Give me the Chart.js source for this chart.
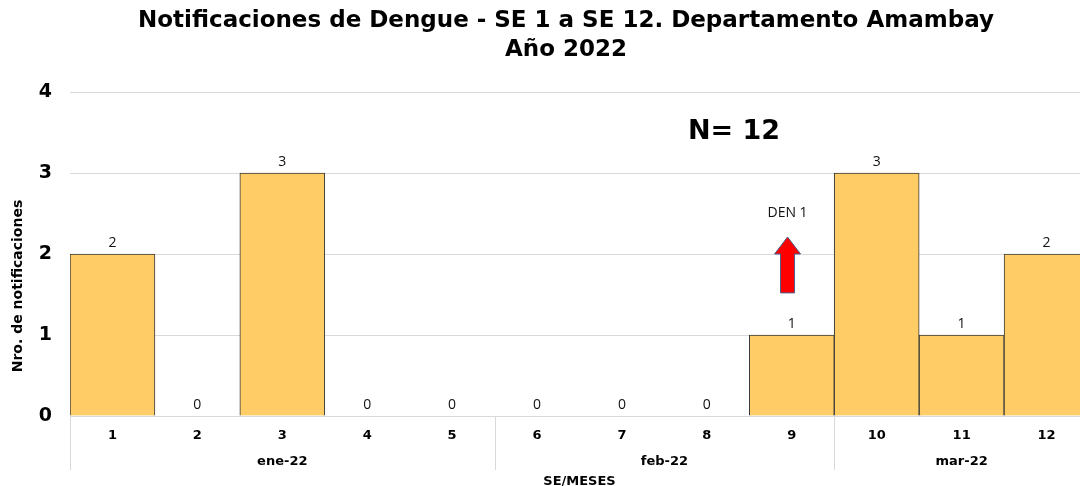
<!DOCTYPE html>
<html>
<head>
    <meta charset="utf-8">
    <title>Notificaciones de Dengue - Amambay 2022</title>
    <script src="https://cdn.jsdelivr.net/npm/chart.js@4.4.1/dist/chart.umd.min.js"></script>
    <style>
        html, body {
            margin: 0;
            padding: 0;
            background: #fff;
            overflow: hidden;
        }
        #wrap {
            width: 1080px;
            height: 486px;
            overflow: hidden;
        }
        #box {
            width: 1136px;
            height: 486px;
        }
    </style>
</head>
<body>
<div id="wrap">
    <div id="box">
        <canvas id="chartJSContainer"></canvas>
    </div>
</div>
<script>
    // semanas epidemiologicas y casos
    var semanas = ['1', '2', '3', '4', '5', '6', '7', '8', '9', '10', '11', '12']
    var casos = [2, 0, 3, 0, 0, 0, 0, 0, 1, 3, 1, 2]
    // meses: etiqueta, primera y ultima semana (indices)
    var meses = ['ene-22', 'feb-22', 'mar-22']
    var mesInicio = [0, 5, 9]
    var mesFin = [4, 8, 11]
    var yTicks = [0, 1, 2, 3, 4]

    var titulo = ['Notificaciones de Dengue - SE 1 a SE 12. Departamento Amambay', 'Año 2022']
    var totalTexto = 'N= 12'
    var serotipo = 'DEN 1'

    var gridColor = '#d9d9d9'

    // titulo, etiquetas, meses, flecha y textos extra
    var extras = {
        id: 'extras',
        afterDatasetsDraw: function (chart) {
            var ctx = chart.ctx
            var x = chart.scales.x
            var y = chart.scales.y
            var area = chart.chartArea
            var step = x.getPixelForValue(1) - x.getPixelForValue(0)

            ctx.save()
            ctx.textAlign = 'center'
            ctx.textBaseline = 'middle'

            // titulo (centrado como en el original, algo a la derecha)
            ctx.fillStyle = '#000'
            ctx.font = 'bold 23px "DejaVu Sans", sans-serif'
            ctx.fillText(titulo[0], 566, 21)
            ctx.fillText(titulo[1], 566, 50)

            // valores sobre barras
            ctx.fillStyle = '#111'
            ctx.font = '14px "Open Sans", sans-serif'
            casos.forEach(function (v, i) {
                ctx.fillText(String(v), x.getPixelForValue(i), y.getPixelForValue(v) - 11)
            })

            // meses y separadores
            ctx.strokeStyle = gridColor
            ctx.lineWidth = 1
            ctx.fillStyle = '#000'
            ctx.font = 'bold 13px "DejaVu Sans", sans-serif'
            meses.forEach(function (m, k) {
                var x0 = x.getPixelForValue(mesInicio[k]) - step / 2
                var x1 = x.getPixelForValue(mesFin[k]) + step / 2
                ctx.beginPath()
                ctx.moveTo(Math.round(x0) + 0.5, area.bottom)
                ctx.lineTo(Math.round(x0) + 0.5, area.bottom + 54)
                ctx.moveTo(Math.round(x1) + 0.5, area.bottom)
                ctx.lineTo(Math.round(x1) + 0.5, area.bottom + 54)
                ctx.stroke()
                ctx.fillText(m, (x0 + x1) / 2, area.bottom + 46)
            })

            // N total
            ctx.font = 'bold 27px "DejaVu Sans", sans-serif'
            ctx.fillText(totalTexto, x.getPixelForValue(7) + 0.32 * step, y.getPixelForValue(3.51))

            // DEN 1 + flecha
            var ax = x.getPixelForValue(8) - 0.05 * step
            ctx.font = '14px "Open Sans", sans-serif'
            ctx.fillStyle = '#111'
            ctx.fillText(serotipo, ax, y.getPixelForValue(2.5))

            var tip = y.getPixelForValue(2.21)
            var base = y.getPixelForValue(1.52)
            var neck = tip + 17
            ctx.beginPath()
            ctx.moveTo(ax, tip)
            ctx.lineTo(ax + 13, neck)
            ctx.lineTo(ax + 7, neck)
            ctx.lineTo(ax + 7, base)
            ctx.lineTo(ax - 7, base)
            ctx.lineTo(ax - 7, neck)
            ctx.lineTo(ax - 13, neck)
            ctx.closePath()
            ctx.fillStyle = '#ff0000'
            ctx.fill()
            ctx.strokeStyle = '#4a5f8c'
            ctx.lineWidth = 1
            ctx.stroke()

            // titulo eje y
            ctx.translate(18, 286)
            ctx.rotate(-Math.PI / 2)
            ctx.fillStyle = '#000'
            ctx.font = 'bold 14px "DejaVu Sans", sans-serif'
            ctx.fillText('Nro. de notificaciones', 0, 0)
            ctx.restore()
        }
    }

    var options = {
        type: 'bar',
        data: {
            labels: semanas,
            datasets: [{
                label: 'Casos',
                data: casos,
                backgroundColor: '#ffcc66',
                borderColor: '#3a3a3a',
                borderWidth: 1,
                barPercentage: 1,
                categoryPercentage: 1
            }]
        },
        options: {
            responsive: true,
            maintainAspectRatio: false,
            animation: false,
            layout: {
                padding: {left: 0, right: 47, top: 92, bottom: 0}
            },
            plugins: {
                legend: {display: false},
                tooltip: {enabled: false},
                title: {display: false}
            },
            scales: {
                x: {
                    grid: {display: false},
                    border: {display: false},
                    ticks: {
                        color: '#000',
                        padding: 4,
                        font: {family: '"DejaVu Sans", sans-serif', size: 13, weight: 'bold'}
                    },
                    title: {
                        display: true,
                        text: 'SE/MESES',
                        color: '#000',
                        padding: {top: 0, bottom: -3},
                        font: {family: '"DejaVu Sans", sans-serif', size: 13, weight: 'bold'}
                    },
                    afterFit: function (scale) {
                        scale.height = 70
                    }
                },
                y: {
                    min: 0,
                    max: 4,
                    afterBuildTicks: function (scale) {
                        scale.ticks = yTicks.map(function (v) { return {value: v} })
                    },
                    grid: {color: gridColor, drawTicks: false},
                    border: {display: false},
                    ticks: {
                        color: '#000',
                        padding: 18,
                        font: {family: '"DejaVu Sans", sans-serif', size: 19, weight: 'bold'}
                    },
                    afterFit: function (scale) {
                        scale.width = 70
                    }
                }
            }
        },
        plugins: [extras]
    }

    var ctx = document.getElementById('chartJSContainer').getContext('2d')
    window.grafico = new Chart(ctx, options)
</script>
</body>
</html>
